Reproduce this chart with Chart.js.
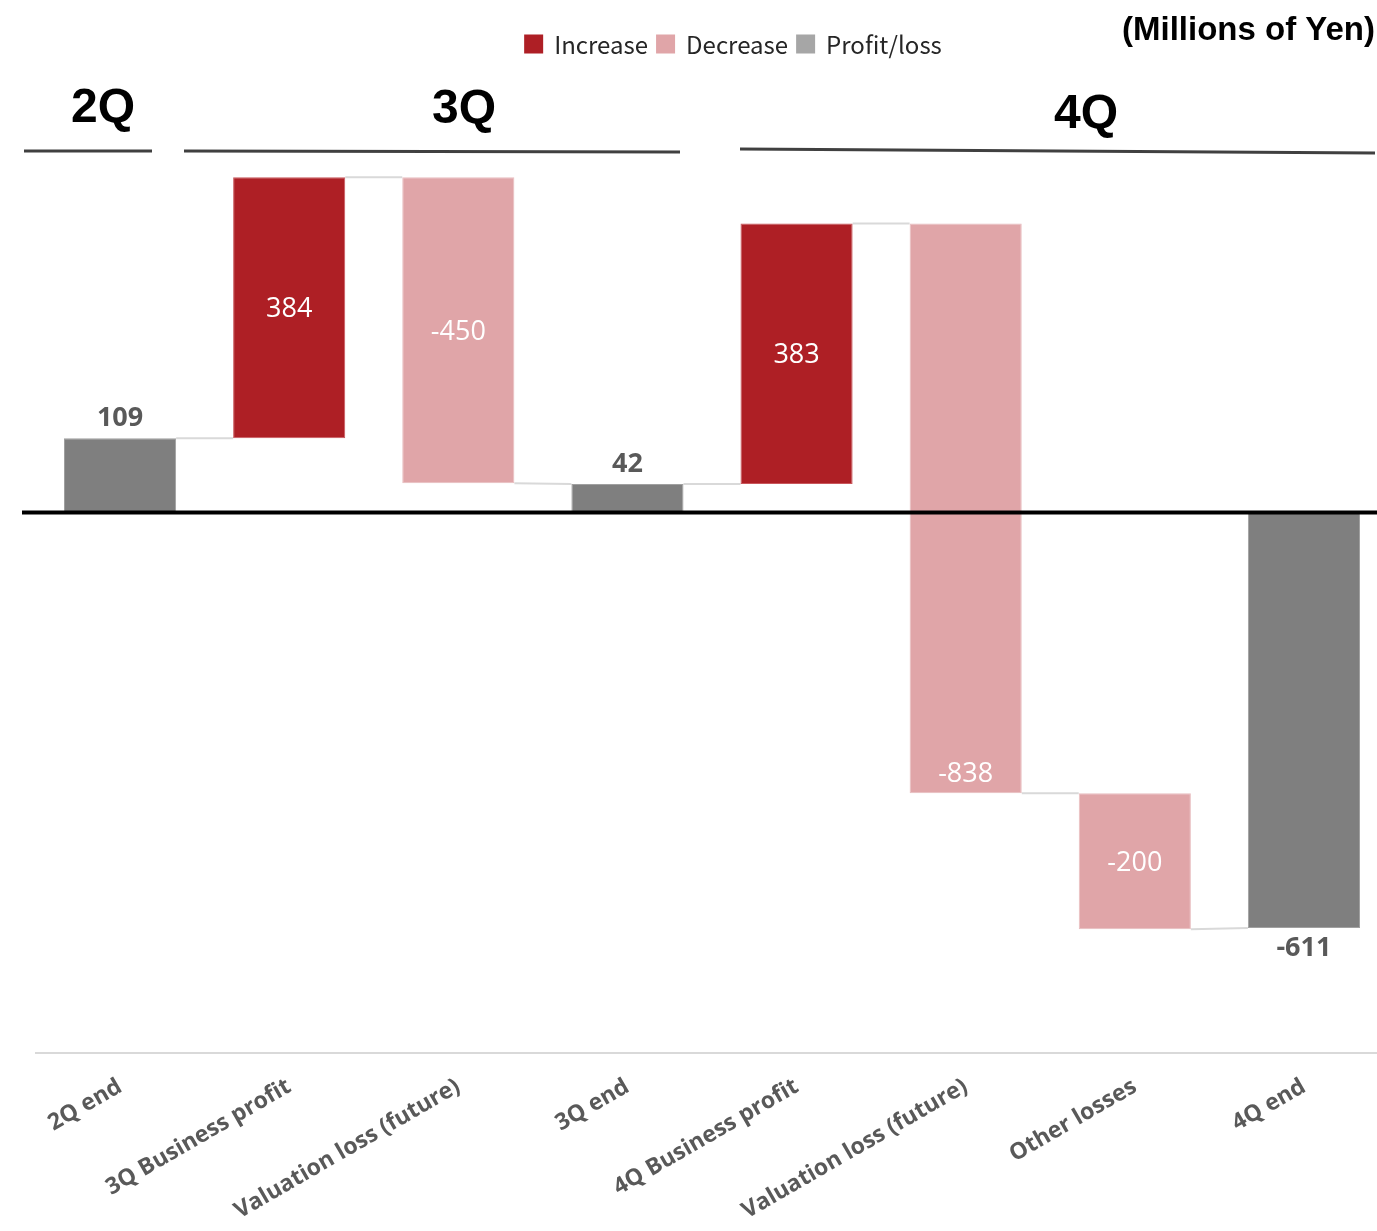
<!DOCTYPE html>
<html><head><meta charset="utf-8">
<script src="https://cdn.jsdelivr.net/npm/chart.js@4"></script>
<style>
html,body{margin:0;padding:0;background:#fff;overflow:hidden;}
#wrap{position:relative;width:1392px;height:1231px;}
</style></head><body>
<div id="wrap"><canvas id="c" width="1392" height="1231"></canvas></div>
<script>
const categories = ['2Q end','3Q Business profit','Valuation loss (future)','3Q end','4Q Business profit','Valuation loss (future)','Other losses','4Q end'];
const values = [109, 384, -450, 42, 383, -838, -200, -611];
const kinds = ['total','increase','decrease','total','increase','decrease','decrease','total'];
const seriesKeys = ['increase','decrease','total'];
const seriesNames = ['Increase','Decrease','Profit/loss'];
const periodLabels = ['2Q','3Q','4Q'];
const unitLabel = '(Millions of Yen)';

const fillColors = {increase:'#AE1F25', decrease:'#E0A5A8', total:'#7F7F7F'};
const edgeColors = {increase:'#C9565B', decrease:'#E8BDBF', total:'#A0A0A0'};
const swatchColors = {increase:'#AE1F25', decrease:'#E0A5A8', total:'#A6A6A6'};

let run = 0;
const ranges = values.map((v,i)=>{
  if(kinds[i]==='total'){ run = v; return [0, v]; }
  const r = [run, run + v]; run += v; return r;
});

const datasets = seriesKeys.map((k,si)=>({
  label: seriesNames[si],
  key: k,
  data: ranges.map((r,i)=> kinds[i]===k ? r : null),
  backgroundColor: fillColors[k],
  borderColor: edgeColors[k],
  borderWidth: 1,
  borderSkipped: false,
  grouped: false,
  barPercentage: 0.663,
  categoryPercentage: 1
}));

function elFor(chart, i){
  const dsi = seriesKeys.indexOf(kinds[i]);
  return chart.getDatasetMeta(dsi).data[i];
}
function levelIn(i){ return kinds[i]==='total' ? ranges[i][1] : ranges[i][0]; }

const waterfallPlugin = {
  id: 'waterfall',
  beforeDatasetsDraw(chart){
    const ctx = chart.ctx, y = chart.scales.y;
    ctx.save();
    ctx.strokeStyle = '#D9D9D9'; ctx.lineWidth = 2;
    for(let i=0;i<values.length-1;i++){
      const a = elFor(chart,i), b = elFor(chart,i+1);
      ctx.beginPath();
      ctx.moveTo(a.x + a.width/2, y.getPixelForValue(ranges[i][1]));
      ctx.lineTo(b.x - b.width/2, y.getPixelForValue(levelIn(i+1)));
      ctx.stroke();
    }
    ctx.restore();
  },
  afterDatasetsDraw(chart){
    const ctx = chart.ctx, y = chart.scales.y;
    ctx.save();
    const y0 = y.getPixelForValue(0);
    ctx.strokeStyle = '#000'; ctx.lineWidth = 4;
    ctx.beginPath(); ctx.moveTo(22, y0); ctx.lineTo(1377, y0); ctx.stroke();
    ctx.textAlign = 'center'; ctx.textBaseline = 'middle';
    values.forEach((v,i)=>{
      const el = elFor(chart,i);
      const top = Math.min(el.y, el.base), bot = Math.max(el.y, el.base);
      let ty, color, weight;
      if(kinds[i]==='total'){
        color = '#595959'; weight = '700';
        ty = v >= 0 ? top - 20 : bot + 20;
      } else {
        color = '#FFFFFF'; weight = '400';
        ty = (bot - top) > 450 ? bot - 19 : (top + bot)/2 + 2;
      }
      ctx.fillStyle = color;
      ctx.font = weight + ' 27px "Open Sans"';
      ctx.fillText(String(v), el.x, ty);
    });
    ctx.restore();
  },
  afterDraw(chart){
    const ctx = chart.ctx;
    ctx.save();
    const hdr = [
      {t: periodLabels[0], x: 103, by: 122, line:[24,151,152,151]},
      {t: periodLabels[1], x: 464, by: 123, line:[184,151,680,152]},
      {t: periodLabels[2], x: 1086, by: 128, line:[740,149,1375,153]}
    ];
    ctx.font = 'bold 48px "Liberation Sans"';
    ctx.fillStyle = '#000'; ctx.textAlign = 'center'; ctx.textBaseline = 'alphabetic';
    ctx.strokeStyle = '#404040'; ctx.lineWidth = 3;
    hdr.forEach(h=>{
      ctx.fillText(h.t, h.x, h.by);
      ctx.beginPath(); ctx.moveTo(h.line[0],h.line[1]); ctx.lineTo(h.line[2],h.line[3]); ctx.stroke();
    });
    ctx.font = 'bold 33px "Liberation Sans"';
    ctx.textAlign = 'right';
    ctx.fillText(unitLabel, 1375, 40);
    ctx.font = '24px "Noto Sans CJK JP"';
    ctx.textBaseline = 'middle'; ctx.textAlign = 'left';
    const sw = 19, gap = 11, itemGap = 8;
    const widths = seriesNames.map(n=>ctx.measureText(n).width);
    const total = widths.reduce((s,w)=>s+w,0) + seriesNames.length*(sw+gap) + (seriesNames.length-1)*itemGap;
    let x = 733 - total/2;
    const ly = 44;
    seriesNames.forEach((n,i)=>{
      ctx.fillStyle = swatchColors[seriesKeys[i]];
      ctx.fillRect(x, ly - sw/2, sw, sw);
      x += sw + gap;
      ctx.fillStyle = '#262626';
      ctx.fillText(n, x, ly + 1);
      x += widths[i] + itemGap;
    });
    ctx.restore();
  }
};

new Chart(document.getElementById('c'), {
  type: 'bar',
  data: { labels: categories, datasets },
  options: {
    responsive: false,
    devicePixelRatio: 1,
    animation: false,
    layout: { padding: { left: 35.5, right: 3.5, top: 104.5, bottom: 0 } },
    plugins: { legend: { display: false }, tooltip: { enabled: false } },
    scales: {
      x: {
        grid: { display: false },
        border: { display: true, color: '#D9D9D9', width: 2 },
        ticks: { autoSkip: false, maxRotation: 30, minRotation: 30, color: '#595959',
                 font: { family: 'Open Sans', size: 23, weight: '700' }, padding: 12 },
        afterFit(s){ s.height = 178; }
      },
      y: { display: false, min: -795, max: 600 }
    }
  },
  plugins: [waterfallPlugin]
});
</script>
</body></html>
